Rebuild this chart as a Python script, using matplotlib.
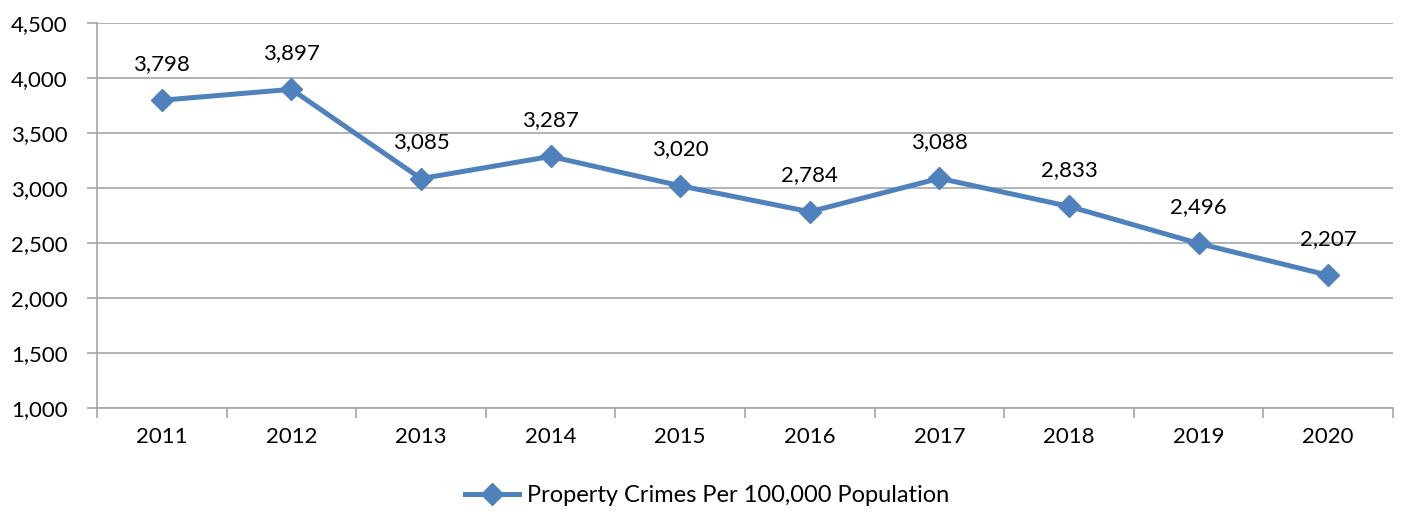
import matplotlib.pyplot as plt
from matplotlib.ticker import FuncFormatter, MultipleLocator

YEARS = ["2011", "2012", "2013", "2014", "2015", "2016", "2017", "2018", "2019", "2020"]
PROPERTY_CRIMES = [3798, 3897, 3085, 3287, 3020, 2784, 3088, 2833, 2496, 2207]
SERIES_LABEL = "Property Crimes Per 100,000 Population"

LINE_COLOR = "#4F81BD"
GRID_COLOR = "#A6A6A6"
FONT = ["Lato", "DejaVu Sans"]

plt.rcParams["font.family"] = FONT

fig = plt.figure(figsize=(14.04, 5.13), dpi=100)
ax = fig.add_axes([97 / 1404, 1 - 408 / 513, 1296 / 1404, (408 - 23) / 513])

x = list(range(len(YEARS)))
ax.plot(x, PROPERTY_CRIMES, color=LINE_COLOR, linewidth=3.6, marker="D",
        markersize=11, markerfacecolor=LINE_COLOR, markeredgecolor=LINE_COLOR,
        label=SERIES_LABEL, zorder=3)

for xi, v in zip(x, PROPERTY_CRIMES):
    ax.annotate(f"{v:,}", (xi, v), xytext=(0, 19), textcoords="offset points",
                ha="center", va="bottom", fontsize=16, color="#000000")

ax.set_xlim(-0.5, len(YEARS) - 0.5)
ax.set_ylim(1000, 4500)
ax.yaxis.set_major_locator(MultipleLocator(500))
ax.yaxis.set_major_formatter(FuncFormatter(lambda v, _: f"{int(v):,}"))
ax.set_xticks(x)
ax.set_xticklabels(YEARS)
ax.set_xticks([i - 0.5 for i in range(len(YEARS) + 1)], minor=True)
ax.tick_params(axis="x", which="major", length=0, pad=14, labelsize=16,
               labelcolor="#000000")
ax.tick_params(axis="x", which="minor", length=7, color=GRID_COLOR, width=1.2)
ax.tick_params(axis="y", length=7, color=GRID_COLOR, width=1.2, pad=14, labelsize=16,
               labelcolor="#000000")

ax.grid(axis="y", color=GRID_COLOR, linewidth=1.2)
ax.set_axisbelow(True)
for side in ("top", "right"):
    ax.spines[side].set_visible(False)
for side in ("left", "bottom"):
    ax.spines[side].set_color(GRID_COLOR)
    ax.spines[side].set_linewidth(1.2)

handles, labels = ax.get_legend_handles_labels()
fig.legend(handles, labels, loc="center", bbox_to_anchor=(707 / 1404, 1 - 496 / 513),
           frameon=False, fontsize=17, handlelength=2.3, handletextpad=0.3,
           labelcolor="#000000")

fig.savefig("out.png", dpi=100)
